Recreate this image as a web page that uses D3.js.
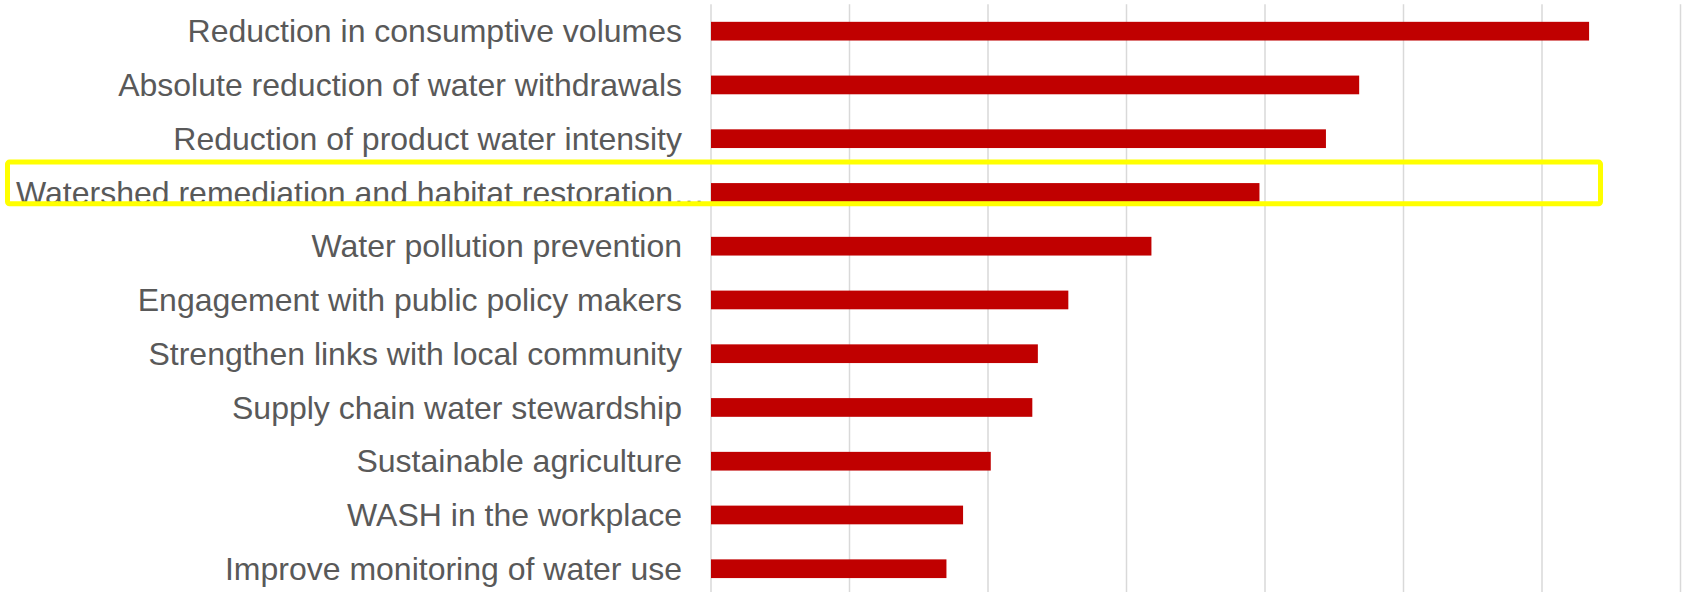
<!DOCTYPE html>
<html>
<head>
<meta charset="utf-8">
<script src="https://cdn.jsdelivr.net/npm/d3@7"></script>
<style>
  body { margin: 0; background: #fff; }
  svg { display: block; }
  .lbl { font-family: "Liberation Sans", Arial, sans-serif; font-size: 32px; fill: #595959; }
</style>
</head>
<body>
<script>
// categories, top to bottom
const categories = [
  "Reduction in consumptive volumes",
  "Absolute reduction of water withdrawals",
  "Reduction of product water intensity",
  "Watershed remediation and habitat restoration…",
  "Water pollution prevention",
  "Engagement with public policy makers",
  "Strengthen links with local community",
  "Supply chain water stewardship",
  "Sustainable agriculture",
  "WASH in the workplace",
  "Improve monitoring of water use"
];
const values = [31.7, 23.4, 22.2, 19.8, 15.9, 12.9, 11.8, 11.6, 10.1, 9.1, 8.5];
const gridTicks = [0, 5, 10, 15, 20, 25, 30, 35];
const highlighted = "Watershed remediation and habitat restoration…";

const W = 1685, H = 592;
const svg = d3.select("body").append("svg").attr("width", W).attr("height", H);

const x = d3.scaleLinear().domain([0, 35]).range([711, 1680.5]);
const y = d3.scaleBand().domain(categories).range([4.3, 595.6])
  .paddingInner(0.652).paddingOuter(0.326);

// gridlines
svg.append("g").selectAll("line")
  .data(gridTicks)
  .enter().append("line")
  .attr("x1", d => x(d)).attr("x2", d => x(d))
  .attr("y1", 4.3).attr("y2", H)
  .attr("stroke", "#d9d9d9").attr("stroke-width", 1.5);

// bars
svg.append("g").selectAll("rect")
  .data(categories)
  .enter().append("rect")
  .attr("x", x(0))
  .attr("y", d => y(d))
  .attr("width", (d, i) => x(values[i]) - x(0))
  .attr("height", y.bandwidth())
  .attr("fill", "#c00000");

// labels (truncated one starts at the left edge like Excel does)
svg.append("g").selectAll("text")
  .data(categories)
  .enter().append("text")
  .attr("class", "lbl")
  .attr("x", d => d.endsWith("…") ? 16 : 682)
  .attr("y", d => y(d) + y.bandwidth() / 2)
  .attr("dy", "0.35em")
  .attr("text-anchor", d => d.endsWith("…") ? "start" : "end")
  .text(d => d);

// yellow highlight box
const hy = y(highlighted);
svg.append("rect")
  .attr("x", 7.5).attr("y", hy - 21)
  .attr("width", 1593).attr("height", y.bandwidth() + 23)
  .attr("rx", 2)
  .attr("fill", "none")
  .attr("stroke", "#ffff00").attr("stroke-width", 5);
</script>
</body>
</html>
